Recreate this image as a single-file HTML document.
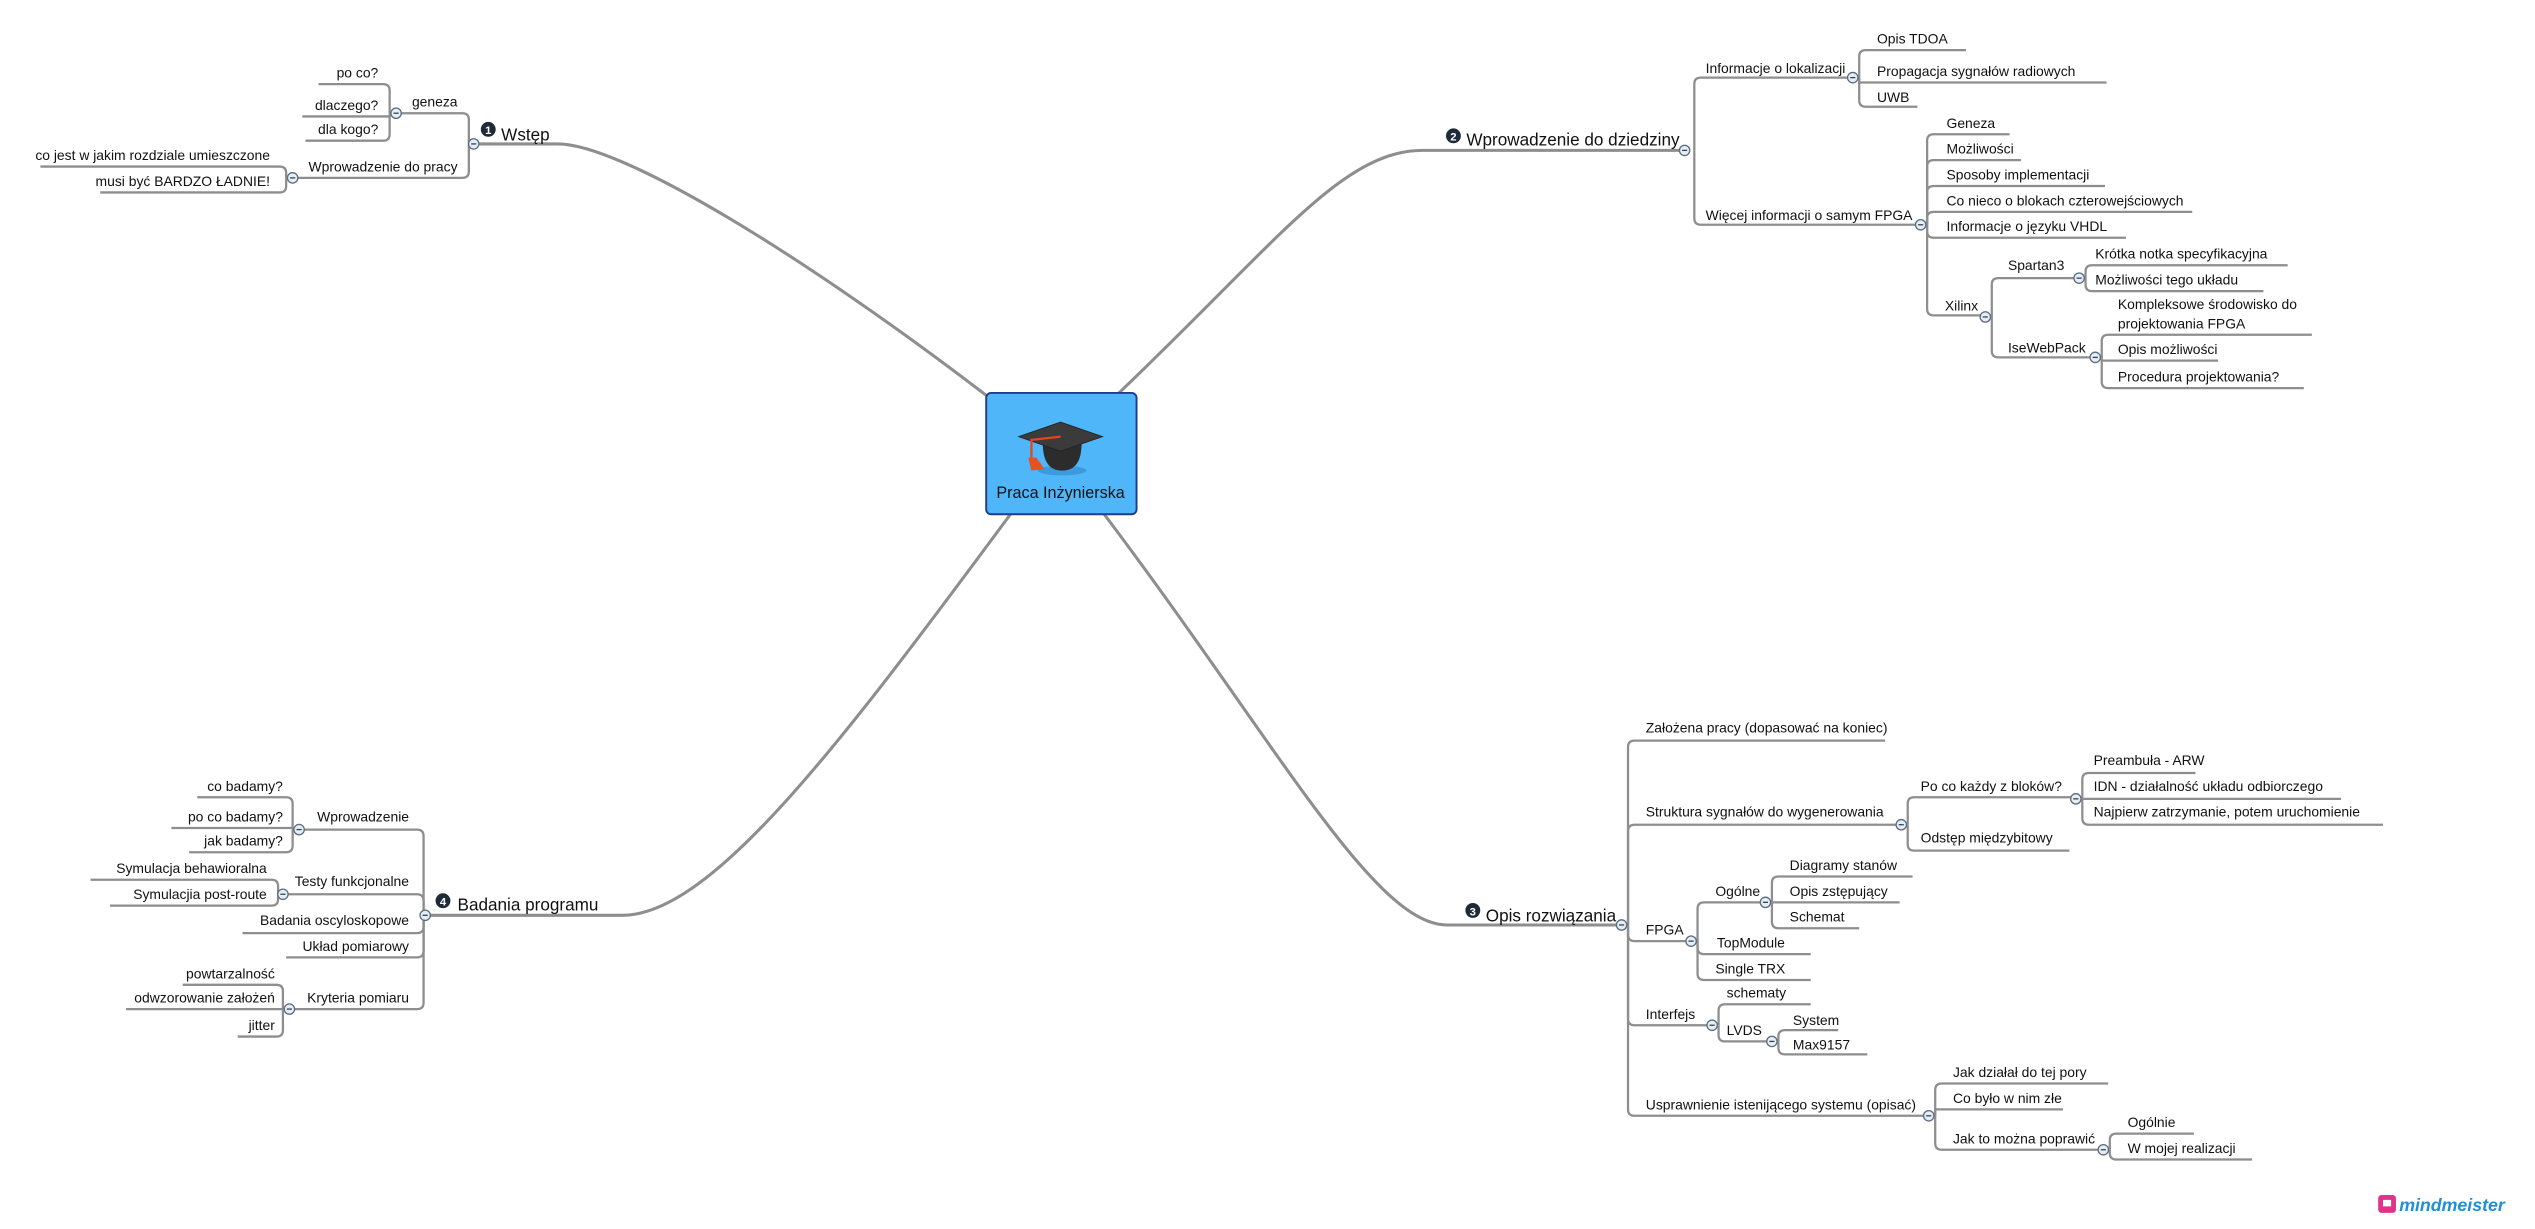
<!DOCTYPE html>
<html><head><meta charset="utf-8"><style>
html,body{margin:0;padding:0;background:#fff;width:2535px;height:1229px;overflow:hidden}
svg{display:block}
text{font-family:"Liberation Sans",sans-serif;fill:#111}
.l{fill:none;stroke:#8e8e8e;stroke-width:1.4}
.m{fill:none;stroke:#8e8e8e;stroke-width:1.9}
.t{font-size:8.6px}
.e{font-size:8.6px;text-anchor:end}
.h{font-size:10.6px}
.c{fill:#e6edf5;stroke:#5a6d80;stroke-width:0.8}
</style></head><body>
<svg width="2535" height="1229" viewBox="0 0 1568 760" preserveAspectRatio="none" xmlns="http://www.w3.org/2000/svg">
<defs>
<g id="cc"><circle r="3.2" class="c"/><line x1="-1.6" y1="0" x2="1.6" y2="0" stroke="#345" stroke-width="0.8"/></g>
</defs>
<!-- main curves -->
<path class="m" d="M293 89 H345 C385 89 500 160 612 246"/>
<path class="m" d="M690 245 C790 150 830 93 880 93 H1042"/>
<path class="m" d="M683 318 C790 460 850 572 895 572 H1003"/>
<path class="m" d="M625 318 C520 460 440 566 385 566 H263"/>

<!-- Branch 1 -->
<path class="l" d="M290 89 V74 Q290 70 286 70 H245"/>
<path class="l" d="M290 89 V106 Q290 110 286 110 H181"/>
<path class="l" d="M241 70 V56 Q241 52 237 52 H197"/>
<path class="l" d="M241 70 V72 H187"/>
<path class="l" d="M241 70 V83 Q241 87 237 87 H189"/>
<path class="l" d="M177 110 V107 Q177 103 173 103 H25"/>
<path class="l" d="M177 110 V115 Q177 119 173 119 H62"/>
<circle cx="302" cy="80" r="4.6" fill="#1e2a38"/><text x="302" y="83" font-size="7" fill="#fff" style="fill:#fff" text-anchor="middle" font-weight="bold">1</text>
<text class="h" x="310" y="87">Wstęp</text>
<text class="e" x="283" y="66">geneza</text>
<text class="e" x="283" y="106">Wprowadzenie do pracy</text>
<text class="e" x="234" y="48">po co?</text>
<text class="e" x="234" y="68">dlaczego?</text>
<text class="e" x="234" y="83">dla kogo?</text>
<text class="e" x="167" y="99">co jest w jakim rozdziale umieszczone</text>
<text class="e" x="167" y="115">musi być BARDZO ŁADNIE!</text>

<!-- Branch 2 -->
<path class="l" d="M1048 93 V52 Q1048 48 1052 48 H1146"/>
<path class="l" d="M1048 93 V135 Q1048 139 1052 139 H1188"/>
<path class="l" d="M1150 48 V35 Q1150 31 1154 31 H1216"/>
<path class="l" d="M1150 48 V51 H1303"/>
<path class="l" d="M1150 48 V62 Q1150 66 1154 66 H1186"/>
<path class="l" d="M1192 139 V87 Q1192 83 1196 83 H1243"/>
<path class="l" d="M1192 139 V103 Q1192 99 1196 99 H1250"/>
<path class="l" d="M1192 139 V119 Q1192 115 1196 115 H1302"/>
<path class="l" d="M1192 139 V135 Q1192 131 1196 131 H1356"/>
<path class="l" d="M1192 139 V143 Q1192 147 1196 147 H1315"/>
<path class="l" d="M1192 139 V191 Q1192 195 1196 195 H1228"/>
<path class="l" d="M1232 196 V176 Q1232 172 1236 172 H1286"/>
<path class="l" d="M1232 196 V217 Q1232 221 1236 221 H1296"/>
<path class="l" d="M1290 172 V168 Q1290 164 1294 164 H1415"/>
<path class="l" d="M1290 172 V176 Q1290 180 1294 180 H1400"/>
<path class="l" d="M1300 221 V211 Q1300 207 1304 207 H1430"/>
<path class="l" d="M1300 221 V223 H1372"/>
<path class="l" d="M1300 221 V236 Q1300 240 1304 240 H1425"/>
<circle cx="899" cy="84" r="4.6" fill="#1e2a38"/><text x="899" y="87" font-size="7" style="fill:#fff" text-anchor="middle" font-weight="bold">2</text>
<text class="h" x="907" y="90">Wprowadzenie do dziedziny</text>
<text class="t" x="1055" y="45">Informacje o lokalizacji</text>
<text class="t" x="1055" y="136">Więcej informacji o samym FPGA</text>
<text class="t" x="1161" y="27">Opis TDOA</text>
<text class="t" x="1161" y="47">Propagacja sygnałów radiowych</text>
<text class="t" x="1161" y="63">UWB</text>
<text class="t" x="1204" y="79">Geneza</text>
<text class="t" x="1204" y="95">Możliwości</text>
<text class="t" x="1204" y="111">Sposoby implementacji</text>
<text class="t" x="1204" y="127">Co nieco o blokach czterowejściowych</text>
<text class="t" x="1204" y="143">Informacje o języku VHDL</text>
<text class="t" x="1203" y="192">Xilinx</text>
<text class="t" x="1242" y="167">Spartan3</text>
<text class="t" x="1242" y="218">IseWebPack</text>
<text class="t" x="1296" y="160">Krótka notka specyfikacyjna</text>
<text class="t" x="1296" y="176">Możliwości tego układu</text>
<text class="t" x="1310" y="191">Kompleksowe środowisko do</text>
<text class="t" x="1310" y="203">projektowania FPGA</text>
<text class="t" x="1310" y="219">Opis możliwości</text>
<text class="t" x="1310" y="236">Procedura projektowania?</text>

<!-- Branch 3 -->
<path class="l" d="M1007 572 V462 Q1007 458 1011 458 H1166"/>
<path class="l" d="M1007 572 V514 Q1007 510 1011 510 H1176"/>
<path class="l" d="M1007 572 V578 Q1007 582 1011 582 H1045"/>
<path class="l" d="M1007 572 V630 Q1007 634 1011 634 H1059"/>
<path class="l" d="M1007 572 V686 Q1007 690 1011 690 H1192"/>
<path class="l" d="M1180 510 V497 Q1180 493 1184 493 H1284"/>
<path class="l" d="M1180 510 V522 Q1180 526 1184 526 H1280"/>
<path class="l" d="M1288 494 V482 Q1288 478 1292 478 H1358"/>
<path class="l" d="M1288 494 H1448"/>
<path class="l" d="M1288 494 V506 Q1288 510 1292 510 H1474"/>
<path class="l" d="M1050 582 V562 Q1050 558 1054 558 H1092"/>
<path class="l" d="M1050 582 V586 Q1050 590 1054 590 H1120"/>
<path class="l" d="M1050 582 V602 Q1050 606 1054 606 H1120"/>
<path class="l" d="M1096 558 V546 Q1096 542 1100 542 H1183"/>
<path class="l" d="M1096 558 H1175"/>
<path class="l" d="M1096 558 V570 Q1096 574 1100 574 H1150"/>
<path class="l" d="M1063 634 V625 Q1063 621 1067 621 H1120"/>
<path class="l" d="M1063 634 V640 Q1063 644 1067 644 H1095"/>
<path class="l" d="M1100 644 V641 Q1100 637 1104 637 H1137"/>
<path class="l" d="M1100 644 V648 Q1100 652 1104 652 H1155"/>
<path class="l" d="M1197 690 V674 Q1197 670 1201 670 H1304"/>
<path class="l" d="M1197 690 V686 H1276"/>
<path class="l" d="M1197 690 V707 Q1197 711 1201 711 H1300"/>
<path class="l" d="M1305 711 V705 Q1305 701 1309 701 H1357"/>
<path class="l" d="M1305 711 V713 Q1305 717 1309 717 H1393"/>
<circle cx="911" cy="563" r="4.6" fill="#1e2a38"/><text x="911" y="566" font-size="7" style="fill:#fff" text-anchor="middle" font-weight="bold">3</text>
<text class="h" x="919" y="570">Opis rozwiązania</text>
<text class="t" x="1018" y="453">Założena pracy (dopasować na koniec)</text>
<text class="t" x="1018" y="505">Struktura sygnałów do wygenerowania</text>
<text class="t" x="1018" y="578">FPGA</text>
<text class="t" x="1018" y="630">Interfejs</text>
<text class="t" x="1018" y="686">Usprawnienie istenijącego systemu (opisać)</text>
<text class="t" x="1188" y="489">Po co każdy z bloków?</text>
<text class="t" x="1188" y="521">Odstęp międzybitowy</text>
<text class="t" x="1295" y="473">Preambuła - ARW</text>
<text class="t" x="1295" y="489">IDN - działalność układu odbiorczego</text>
<text class="t" x="1295" y="505">Najpierw zatrzymanie, potem uruchomienie</text>
<text class="t" x="1061" y="554">Ogólne</text>
<text class="t" x="1062" y="586">TopModule</text>
<text class="t" x="1061" y="602">Single TRX</text>
<text class="t" x="1107" y="538">Diagramy stanów</text>
<text class="t" x="1107" y="554">Opis zstępujący</text>
<text class="t" x="1107" y="570">Schemat</text>
<text class="t" x="1068" y="617">schematy</text>
<text class="t" x="1068" y="640">LVDS</text>
<text class="t" x="1109" y="634">System</text>
<text class="t" x="1109" y="649">Max9157</text>
<text class="t" x="1208" y="666">Jak działał do tej pory</text>
<text class="t" x="1208" y="682">Co było w nim złe</text>
<text class="t" x="1208" y="707">Jak to można poprawić</text>
<text class="t" x="1316" y="697">Ogólnie</text>
<text class="t" x="1316" y="713">W mojej realizacji</text>

<!-- Branch 4 -->
<path class="l" d="M262 566 V517 Q262 513 258 513 H185"/>
<path class="l" d="M262 566 V557 Q262 553 258 553 H175"/>
<path class="l" d="M262 566 V573 Q262 577 258 577 H150"/>
<path class="l" d="M262 566 V588 Q262 592 258 592 H177"/>
<path class="l" d="M262 566 V620 Q262 624 258 624 H179"/>
<path class="l" d="M181 513 V497 Q181 493 177 493 H122"/>
<path class="l" d="M181 513 V512 H106"/>
<path class="l" d="M181 513 V523 Q181 527 177 527 H117"/>
<path class="l" d="M172 553 V548 Q172 544 168 544 H56"/>
<path class="l" d="M172 553 V556 Q172 560 168 560 H68"/>
<path class="l" d="M175 624 V613 Q175 609 171 609 H113"/>
<path class="l" d="M175 624 H78"/>
<path class="l" d="M175 624 V637 Q175 641 171 641 H147"/>
<circle cx="274" cy="557" r="4.6" fill="#1e2a38"/><text x="274" y="560" font-size="7" style="fill:#fff" text-anchor="middle" font-weight="bold">4</text>
<text class="h" x="283" y="563">Badania programu</text>
<text class="e" x="253" y="508">Wprowadzenie</text>
<text class="e" x="253" y="548">Testy funkcjonalne</text>
<text class="e" x="253" y="572">Badania oscyloskopowe</text>
<text class="e" x="253" y="588">Układ pomiarowy</text>
<text class="e" x="253" y="620">Kryteria pomiaru</text>
<text class="e" x="175" y="489">co badamy?</text>
<text class="e" x="175" y="508">po co badamy?</text>
<text class="e" x="175" y="523">jak badamy?</text>
<text class="e" x="165" y="540">Symulacja behawioralna</text>
<text class="e" x="165" y="556">Symulacjia post-route</text>
<text class="e" x="170" y="605">powtarzalność</text>
<text class="e" x="170" y="620">odwzorowanie założeń</text>
<text class="e" x="170" y="637">jitter</text>

<!-- collapse circles -->
<use href="#cc" x="293" y="89"/><use href="#cc" x="245" y="70"/><use href="#cc" x="181" y="110"/>
<use href="#cc" x="1042" y="93"/><use href="#cc" x="1146" y="48"/><use href="#cc" x="1188" y="139"/>
<use href="#cc" x="1228" y="196"/><use href="#cc" x="1286" y="172"/><use href="#cc" x="1296" y="221"/>
<use href="#cc" x="1003" y="572"/><use href="#cc" x="1176" y="510"/><use href="#cc" x="1284" y="494"/>
<use href="#cc" x="1046" y="582"/><use href="#cc" x="1092" y="558"/><use href="#cc" x="1059" y="634"/>
<use href="#cc" x="1096" y="644"/><use href="#cc" x="1193" y="690"/><use href="#cc" x="1301" y="711"/>
<use href="#cc" x="263" y="566"/><use href="#cc" x="185" y="513"/><use href="#cc" x="175" y="553"/>
<use href="#cc" x="179" y="624"/>

<!-- central node -->
<rect x="610" y="243" width="93" height="75" rx="3" fill="#4fb6fa" stroke="#1d3f8a" stroke-width="1.2"/>
<ellipse cx="657" cy="291" rx="15" ry="3" fill="#2a7fc0" opacity="0.5"/>
<path d="M645 274 Q645 291 657 291 Q669 291 669 274 Z" fill="#2c2c2c"/>
<path d="M630 270 L656 261 L682 270 L656 279 Z" fill="#3b3b3b" stroke="#222" stroke-width="0.5"/>
<path d="M656 270 L638 272 L638 284" fill="none" stroke="#e8431a" stroke-width="1.4"/>
<path d="M636 283 L641 283 L646 290 L638 291 Z" fill="#e8501f"/>
<text x="656" y="308" font-size="10" text-anchor="middle">Praca Inżynierska</text>

<!-- logo -->
<rect x="1471" y="739" width="11" height="11" rx="2" fill="#e0338a"/>
<rect x="1474" y="742" width="5" height="4" fill="#fff"/>
<text x="1484" y="749" font-size="11" font-weight="bold" style="fill:#1e8fd8" font-style="italic">mind<tspan style="fill:#1e8fd8">meister</tspan></text>
</svg>
</body></html>
